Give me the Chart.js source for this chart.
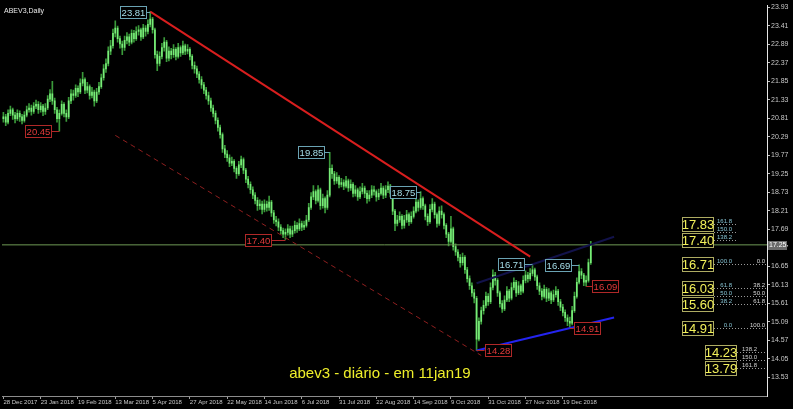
<!DOCTYPE html>
<html>
<head>
<meta charset="utf-8">
<script src="https://cdn.jsdelivr.net/npm/chart.js@4.4.0/dist/chart.umd.min.js"></script>
<style>
  html, body { margin: 0; padding: 0; background: #000; }
  #wrap { width: 793px; height: 409px; position: relative; }
</style>
</head>
<body>
<div id="wrap"><canvas id="chart"></canvas></div>
<script>
// ABEV3 daily, 28 Dec 2017 .. 11 Jan 2019 (one entry per trading day)
const dateTicks = ['28 Dec 2017', '23 Jan 2018', '19 Feb 2018', '13 Mar 2018', '5 Apr 2018', '27 Apr 2018',
  '22 May 2018', '14 Jun 2018', '6 Jul 2018', '31 Jul 2018', '22 Aug 2018', '14 Sep 2018',
  '9 Oct 2018', '31 Oct 2018', '27 Nov 2018', '19 Dec 2018'];
const barsPerTick = 16;

const opens = [
  20.80,20.85,20.70,20.95,21.05,20.90,20.80,20.95,20.85,20.75,
  20.90,21.05,21.10,21.00,21.15,21.20,21.05,21.15,21.00,21.10,
  21.35,21.50,21.30,21.05,20.80,20.95,21.20,20.95,20.85,21.30,
  21.50,21.45,21.65,21.55,21.80,21.90,21.60,21.70,21.45,21.55,
  21.30,21.55,21.70,21.95,22.20,22.35,22.70,22.85,23.20,23.35,
  23.05,22.90,22.80,23.00,23.10,22.95,23.20,23.05,23.25,23.30,
  23.10,23.35,23.25,23.45,23.60,23.30,22.60,22.35,22.55,22.80,
  22.95,22.50,22.70,22.60,22.75,22.55,22.80,22.65,22.85,22.70,
  22.75,22.55,22.30,22.20,22.05,21.90,21.75,21.60,21.45,21.30,
  21.10,20.95,20.75,20.55,20.35,19.95,19.80,19.70,19.55,19.60,
  19.40,19.25,19.50,19.65,19.35,19.10,18.95,18.80,18.65,18.50,
  18.35,18.40,18.25,18.40,18.30,18.45,18.15,17.95,17.90,17.75,
  17.65,17.55,17.60,17.70,17.55,17.65,17.80,17.70,17.85,17.75,
  17.80,17.95,18.30,18.60,18.75,18.50,18.80,18.35,18.55,18.30,
  18.65,19.40,19.25,19.05,19.15,18.95,19.00,18.90,19.05,18.85,
  18.95,18.70,18.80,18.60,18.75,18.85,18.70,18.55,18.65,18.80,
  18.75,18.60,18.70,18.85,18.65,18.80,18.90,18.70,18.20,17.85,
  17.95,18.05,17.80,17.95,18.10,17.90,18.05,18.20,18.45,18.30,
  18.55,18.35,18.05,17.90,18.25,18.40,18.10,17.85,18.20,18.10,
  17.80,17.55,17.35,17.70,17.20,17.05,16.90,16.75,16.90,16.55,
  16.30,16.10,15.90,15.75,14.60,15.10,15.40,15.55,15.80,15.65,
  16.05,16.40,16.25,15.90,15.60,15.45,15.70,15.95,15.75,16.05,
  16.20,15.90,16.10,15.95,16.25,16.40,16.30,16.45,16.55,16.35,
  16.10,15.95,15.80,16.00,15.75,15.90,15.70,15.85,15.95,15.65,
  15.50,15.35,15.20,15.10,15.05,15.40,15.80,16.20,16.50,16.40,
  16.20,16.25,16.75
];
const highs = [
  20.98,20.92,21.05,21.15,21.10,20.98,21.05,21.02,20.92,21.00,
  21.15,21.22,21.18,21.25,21.32,21.28,21.25,21.20,21.22,21.45,
  21.62,21.85,21.38,21.12,21.05,21.30,21.25,21.05,21.40,21.62,
  21.60,21.75,21.72,21.92,22.10,21.95,21.82,21.75,21.68,21.60,
  21.65,21.82,22.05,22.32,22.48,22.82,23.00,23.32,23.55,23.40,
  23.12,22.98,23.12,23.22,23.18,23.30,23.28,23.38,23.42,23.35,
  23.45,23.42,23.58,23.81,23.65,23.35,22.70,22.68,22.92,23.08,
  23.00,22.82,22.78,22.88,22.80,22.92,22.85,22.98,22.90,22.88,
  22.80,22.60,22.40,22.28,22.12,21.98,21.82,21.68,21.55,21.38,
  21.18,21.02,20.82,20.62,20.40,20.05,19.90,19.78,19.72,19.65,
  19.45,19.60,19.75,19.70,19.40,19.18,19.02,18.88,18.72,18.58,
  18.52,18.48,18.52,18.48,18.62,18.50,18.22,18.05,17.98,17.82,
  17.72,17.70,17.82,17.78,17.78,17.92,17.88,17.98,17.92,17.92,
  18.08,18.42,18.72,18.92,18.80,18.92,18.85,18.68,18.60,18.78,
  19.85,19.50,19.32,19.28,19.20,19.12,19.08,19.18,19.10,19.08,
  19.00,18.92,18.85,18.88,18.98,18.90,18.78,18.78,18.92,18.90,
  18.80,18.82,18.98,18.90,18.92,19.02,18.95,18.75,18.25,18.08,
  18.18,18.10,18.08,18.22,18.15,18.18,18.32,18.58,18.52,18.75,
  18.60,18.40,18.12,18.38,18.55,18.45,18.15,18.32,18.35,18.15,
  17.85,17.60,18.05,17.75,17.28,17.12,16.98,17.02,16.95,16.62,
  16.38,16.18,16.00,15.80,15.20,15.50,15.68,15.92,15.88,16.18,
  16.55,16.48,16.30,15.95,15.68,15.82,16.08,16.00,16.18,16.32,
  16.25,16.22,16.15,16.38,16.52,16.48,16.58,16.71,16.60,16.40,
  16.18,16.02,16.12,16.05,16.02,15.95,15.98,16.08,16.00,15.72,
  15.58,15.42,15.28,15.22,15.52,15.92,16.32,16.69,16.58,16.45,
  16.38,16.85,17.35
];
const lows = [
  20.70,20.60,20.65,20.88,20.78,20.68,20.75,20.72,20.65,20.70,
  20.85,20.98,20.90,20.95,21.08,20.95,20.98,20.88,20.92,21.05,
  21.28,21.20,20.95,20.70,20.45,20.90,20.85,20.72,20.80,21.22,
  21.32,21.40,21.42,21.50,21.72,21.50,21.52,21.35,21.38,21.15,
  21.25,21.48,21.65,21.88,22.10,22.28,22.60,22.78,23.10,22.95,
  22.78,22.60,22.72,22.90,22.85,22.90,22.95,23.00,23.15,23.00,
  23.05,23.12,23.18,23.38,23.20,22.50,22.15,22.28,22.48,22.70,
  22.40,22.42,22.48,22.52,22.45,22.50,22.55,22.60,22.60,22.62,
  22.45,22.20,22.08,21.95,21.80,21.65,21.50,21.35,21.20,21.00,
  20.85,20.65,20.45,20.25,19.85,19.70,19.60,19.45,19.48,19.30,
  19.12,19.20,19.42,19.25,19.00,18.85,18.70,18.55,18.40,18.22,
  18.25,18.12,18.18,18.20,18.22,18.05,17.85,17.78,17.65,17.55,
  17.45,17.40,17.52,17.45,17.48,17.58,17.60,17.65,17.65,17.68,
  17.75,17.90,18.25,18.52,18.40,18.45,18.25,18.28,18.15,18.25,
  18.60,19.12,18.95,18.98,18.85,18.88,18.80,18.85,18.75,18.78,
  18.60,18.62,18.50,18.55,18.68,18.58,18.42,18.48,18.58,18.65,
  18.48,18.52,18.65,18.55,18.58,18.72,18.60,18.10,17.65,17.78,
  17.88,17.70,17.72,17.88,17.80,17.85,18.00,18.15,18.20,18.25,
  18.25,17.95,17.80,17.85,18.18,18.00,17.75,17.80,18.00,17.70,
  17.45,17.22,17.30,17.10,16.95,16.80,16.62,16.68,16.45,16.20,
  16.00,15.80,15.62,14.28,14.55,15.02,15.30,15.48,15.55,15.60,
  15.98,16.12,15.80,15.50,15.35,15.40,15.65,15.65,15.70,15.98,
  15.80,15.85,15.85,15.90,16.18,16.20,16.25,16.38,16.25,16.00,
  15.85,15.70,15.75,15.65,15.68,15.60,15.65,15.78,15.55,15.40,
  15.25,15.10,14.98,14.91,15.00,15.35,15.75,16.15,16.30,16.10,
  16.09,16.20,16.70
];
const closes = [
  20.85,20.70,20.95,21.05,20.90,20.80,20.95,20.85,20.75,20.90,
  21.05,21.10,21.00,21.15,21.20,21.05,21.15,21.00,21.10,21.35,
  21.50,21.30,21.05,20.80,20.95,21.20,20.95,20.85,21.30,21.50,
  21.45,21.65,21.55,21.80,21.90,21.60,21.70,21.45,21.55,21.30,
  21.55,21.70,21.95,22.20,22.35,22.70,22.85,23.20,23.35,23.05,
  22.90,22.80,23.00,23.10,22.95,23.20,23.05,23.25,23.30,23.10,
  23.35,23.25,23.45,23.60,23.30,22.60,22.35,22.55,22.80,22.95,
  22.50,22.70,22.60,22.75,22.55,22.80,22.65,22.85,22.70,22.75,
  22.55,22.30,22.20,22.05,21.90,21.75,21.60,21.45,21.30,21.10,
  20.95,20.75,20.55,20.35,19.95,19.80,19.70,19.55,19.60,19.40,
  19.25,19.50,19.65,19.35,19.10,18.95,18.80,18.65,18.50,18.35,
  18.40,18.25,18.40,18.30,18.45,18.15,17.95,17.90,17.75,17.65,
  17.55,17.60,17.70,17.55,17.65,17.80,17.70,17.85,17.75,17.80,
  17.95,18.30,18.60,18.75,18.50,18.80,18.35,18.55,18.30,18.65,
  19.40,19.25,19.05,19.15,18.95,19.00,18.90,19.05,18.85,18.95,
  18.70,18.80,18.60,18.75,18.85,18.70,18.55,18.65,18.80,18.75,
  18.60,18.70,18.85,18.65,18.80,18.90,18.70,18.20,17.85,17.95,
  18.05,17.80,17.95,18.10,17.90,18.05,18.20,18.45,18.30,18.55,
  18.35,18.05,17.90,18.25,18.40,18.10,17.85,18.20,18.10,17.80,
  17.55,17.35,17.70,17.20,17.05,16.90,16.75,16.90,16.55,16.30,
  16.10,15.90,15.75,14.60,15.10,15.40,15.55,15.80,15.65,16.05,
  16.40,16.25,15.90,15.60,15.45,15.70,15.95,15.75,16.05,16.20,
  15.90,16.10,15.95,16.25,16.40,16.30,16.45,16.55,16.35,16.10,
  15.95,15.80,16.00,15.75,15.90,15.70,15.85,15.95,15.65,15.50,
  15.35,15.20,15.10,15.05,15.40,15.80,16.20,16.50,16.40,16.20,
  16.25,16.75,17.25
];

const priceTicks = [23.93, 23.41, 22.89, 22.37, 21.85, 21.33, 20.81, 20.29, 19.77, 19.25, 18.73,
  18.21, 17.69, 17.17, 16.65, 16.13, 15.61, 15.09, 14.57, 14.05, 13.53];
const lastPrice = 17.25;

// trend lines: [bar, price] end points
const downTrend = [[63, 23.81], [226, 16.92]];
const channelLow = [[48, 20.33], [205, 14.14]];
const supportLine = [[203, 14.28], [262, 15.21]];
const upperLine = [[203, 16.17], [262, 17.48]];

// swing high / low tags
const pivotText = ['23.81', '20.45', '19.85', '18.75', '17.40', '16.71', '16.69', '16.09', '14.91', '14.28'];
const pivotBar = [63, 24, 140, 179, 121, 227, 247, 250, 243, 203];
const pivotPrice = [23.81, 20.45, 19.85, 18.75, 17.40, 16.71, 16.69, 16.09, 14.91, 14.28];
const pivotIsHigh = [true, false, true, true, false, true, true, false, false, false];

// fibonacci levels (16.71 -> 14.91) and extension levels
const fibPrices = [17.83, 17.61, 17.40, 16.71, 16.03, 15.81, 15.60, 14.91];
const fibLeftTags = ['161.8', '150.0', '138.2', '100.0', '61.8', '50.0', '38.2', '0.0'];
const fibRightTags = ['', '', '', '0.0', '38.2', '50.0', '61.8', '100.0'];
const fibBoxText = ['17.83', '', '17.40', '16.71', '16.03', '', '15.60', '14.91'];
const extPrices = [14.23, 14.02, 13.79];
const extTags = ['138.2', '150.0', '161.8'];
const extBoxText = ['14.23', '', '13.79'];

Chart.defaults.font.family = 'Liberation Sans';

const annotate = {
  id: 'annotate',
  afterDatasetsDraw(chart) {
    const { ctx, chartArea: a, scales: { x, y } } = chart;
    ctx.save();

    // title
    ctx.fillStyle = '#e8e8e8';
    ctx.font = '7px Liberation Sans';
    ctx.textBaseline = 'top';
    ctx.textAlign = 'left';
    ctx.fillText('ABEV3,Daily', a.left + 2, a.top + 2);

    // pivot tags
    const leftSide = [true, true, true, true, true, true, true, false, false, false];
    const gaps = [4, 8, 6, 5, 14, 9, 8, 6, 4, 8];
    ctx.font = '9.5px Liberation Sans';
    ctx.textBaseline = 'middle';
    ctx.textAlign = 'center';
    pivotText.forEach((t, k) => {
      const px = x.getPixelForValue(pivotBar[k]);
      const py = Math.round(y.getPixelForValue(pivotPrice[k])) + 0.5;
      const w = 26, h = 12;
      const bx = leftSide[k] ? px - gaps[k] - w : px + gaps[k];
      const edge = pivotIsHigh[k] ? '#6aa3b3' : '#b02828';
      ctx.strokeStyle = edge;
      ctx.lineWidth = 1;
      ctx.beginPath();
      ctx.moveTo(leftSide[k] ? bx + w : bx, py);
      ctx.lineTo(px, py);
      ctx.stroke();
      ctx.fillStyle = '#000';
      ctx.fillRect(Math.round(bx) + 0.5, py - h / 2, w, h);
      ctx.strokeRect(Math.round(bx) + 0.5, py - h / 2, w, h);
      ctx.fillStyle = pivotIsHigh[k] ? '#a6dfea' : '#e23a3a';
      ctx.fillText(t, Math.round(bx) + w / 2 + 0.5, py + 0.5);
    });

    // fibonacci boxes & tags
    const drawBox = (txt, cx, py) => {
      const w = 32, h = 15;
      ctx.fillStyle = '#000';
      ctx.fillRect(cx - w / 2, py - h / 2, w, h);
      ctx.strokeStyle = '#aeac62';
      ctx.lineWidth = 1;
      ctx.strokeRect(cx - w / 2 + 0.5, py - h / 2 + 0.5, w - 1, h - 1);
      ctx.fillStyle = '#f2f05a';
      ctx.font = '13px Liberation Sans';
      ctx.textAlign = 'center';
      ctx.textBaseline = 'middle';
      ctx.fillText(txt, cx, py + 1);
    };
    const dotted = (x1, x2, py) => {
      ctx.strokeStyle = '#9a9a9a';
      ctx.setLineDash([1, 2]);
      ctx.beginPath();
      ctx.moveTo(x1, py);
      ctx.lineTo(x2, py);
      ctx.stroke();
      ctx.setLineDash([]);
    };
    const boxCx1 = a.right - 69, boxCx2 = a.right - 46;
    fibPrices.forEach((p, k) => {
      const py = Math.round(y.getPixelForValue(p)) + 0.5;
      const long = fibRightTags[k] !== '';
      dotted(boxCx1 + 16, long ? a.right - 1 : a.right - 31, py);
      ctx.font = '6px Liberation Sans';
      ctx.textBaseline = 'bottom';
      ctx.textAlign = 'right';
      ctx.fillStyle = '#86c3d3';
      ctx.fillText(fibLeftTags[k], a.right - 35, py);
      if (long) {
        ctx.fillStyle = '#d8d8d8';
        ctx.fillText(fibRightTags[k], a.right - 2, py);
      }
      if (fibBoxText[k]) drawBox(fibBoxText[k], boxCx1, py);
    });
    extPrices.forEach((p, k) => {
      const py = Math.round(y.getPixelForValue(p)) + 0.5;
      dotted(boxCx2 + 16, a.right - 2, py);
      ctx.font = '6px Liberation Sans';
      ctx.textBaseline = 'bottom';
      ctx.textAlign = 'right';
      ctx.fillStyle = '#d0d0d0';
      ctx.fillText(extTags[k], a.right - 10, py);
      if (extBoxText[k]) drawBox(extBoxText[k], boxCx2, py);
    });

    // current price tag on the axis
    const cy = Math.round(y.getPixelForValue(lastPrice));
    ctx.fillStyle = '#6a6a6a';
    ctx.fillRect(a.right + 1, cy - 4, 19, 9);
    ctx.fillStyle = '#ffffff';
    ctx.font = '7px Liberation Sans';
    ctx.textAlign = 'left';
    ctx.textBaseline = 'middle';
    ctx.fillText(lastPrice.toFixed(2), a.right + 2, cy + 0.5);

    // caption
    ctx.fillStyle = '#eeee2a';
    ctx.font = '15px Liberation Sans';
    ctx.textAlign = 'center';
    ctx.textBaseline = 'alphabetic';
    ctx.fillText('abev3 - diário - em 11jan19', a.left + a.width * 0.494, a.bottom - 18);

    ctx.restore();
  }
};

const seg = (pts) => pts.map(p => ({ x: p[0], y: p[1] }));

new Chart(document.getElementById('chart'), {
  type: 'bar',
  data: {
    datasets: [
      { type: 'line', data: seg(downTrend), borderColor: '#d81e1e', borderWidth: 2, pointRadius: 0, order: 0 },
      { type: 'line', data: seg(channelLow), borderColor: '#8e1f1f', borderWidth: 1, borderDash: [5, 4], pointRadius: 0, order: 0 },
      { type: 'line', data: seg(supportLine), borderColor: '#2424f0', borderWidth: 2, pointRadius: 0, order: 0 },
      { type: 'line', data: seg(upperLine), borderColor: '#12124a', borderWidth: 2, pointRadius: 0, order: 0 },
      { type: 'line', data: [{ x: -0.6, y: lastPrice }, { x: 327.6, y: lastPrice }], borderColor: '#6f9a55', borderWidth: 1, pointRadius: 0, order: 0 },
      {
        data: highs.map((h, i) => ({ x: i, y: [lows[i], h] })),
        backgroundColor: '#3a9a3a', barThickness: 1, grouped: false, order: 2
      },
      {
        data: opens.map((o, i) => ({ x: i, y: [o, closes[i]] })),
        backgroundColor: '#78ec78', barThickness: 1, minBarLength: 1, grouped: false, order: 1
      }
    ]
  },
  options: {
    responsive: true,
    maintainAspectRatio: false,
    animation: false,
    layout: { padding: { left: 2, top: 2, right: 0, bottom: 0 } },
    plugins: { legend: { display: false }, tooltip: { enabled: false } },
    scales: {
      x: {
        type: 'linear', min: -0.6, max: 327.6, offset: false,
        afterBuildTicks: (s) => { s.ticks = dateTicks.map((_, k) => ({ value: k * barsPerTick })); },
        afterFit: (s) => { s.height = 13; },
        ticks: {
          autoSkip: false, maxRotation: 0, align: 'start', padding: 0,
          color: '#c8c8c8', font: { size: 6 },
          callback: (v) => dateTicks[Math.round(v / barsPerTick)]
        },
        grid: { drawOnChartArea: false, tickLength: 3, color: '#a0a0a0', offset: false },
        border: { color: '#8c8c8c' }
      },
      y: {
        position: 'right', min: 13.0, max: 23.99,
        afterBuildTicks: (s) => { s.ticks = priceTicks.map(v => ({ value: v })); },
        afterFit: (s) => { s.width = 26; },
        ticks: { color: '#c8c8c8', font: { size: 7 }, padding: 1, callback: (v) => v.toFixed(2) },
        grid: { drawOnChartArea: false, tickLength: 3, color: '#c0c0c0' },
        border: { color: '#e6e6e6' }
      }
    }
  },
  plugins: [annotate]
});
</script>
</body>
</html>
